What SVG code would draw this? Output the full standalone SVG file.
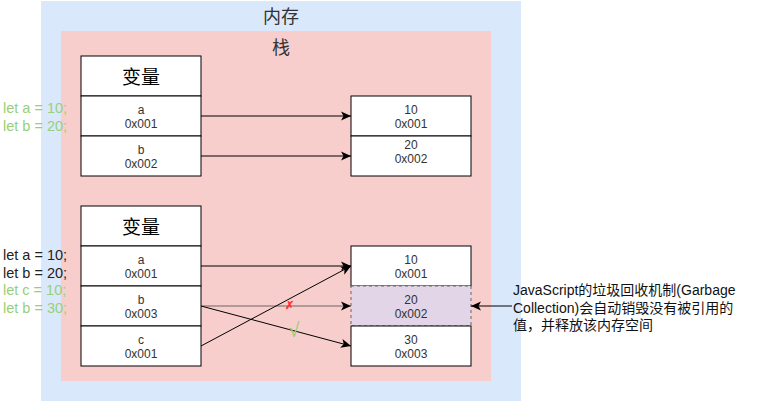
<svg xmlns="http://www.w3.org/2000/svg" width="775" height="405" viewBox="0 0 775 405">
<style>
text{font-family:"Liberation Sans","Noto Sans CJK SC",sans-serif;}
.cell{fill:#ffffff;stroke:#000000;stroke-width:1;}
.ct{font-size:12px;fill:#333333;text-anchor:middle;}
.hd{font-size:19px;fill:#000000;text-anchor:middle;}
.code{font-size:14.5px;}
.green{fill:#97D077;}
.black{fill:#222222;}
.edge{fill:none;stroke:#000000;stroke-width:1;}
</style>
<defs>
<marker id="arr" markerUnits="userSpaceOnUse" markerWidth="12" markerHeight="10" refX="10" refY="5" orient="auto">
<path d="M0,0.5 L10,5 L0,9.5 L2.5,5 Z" fill="#000000"/>
</marker>
</defs>
<g id="memory">
<rect x="41" y="1" width="480" height="400" fill="#dae8fc"/>
<text x="281" y="23" font-size="18" fill="#333333" text-anchor="middle">内存</text>
</g>
<g id="stack">
<rect x="61" y="31" width="430" height="350" fill="#f8cecc"/>
<text x="281" y="54" font-size="18" fill="#333333" text-anchor="middle">栈</text>
</g>
<g id="vars1">
<rect class="cell" x="81" y="56" width="120" height="40"/>
<text class="hd" x="141" y="84">变量</text>
<rect class="cell" x="81" y="96" width="120" height="40"/>
<text class="ct" x="141" y="114">a</text>
<text class="ct" x="141" y="128">0x001</text>
<rect class="cell" x="81" y="136" width="120" height="40"/>
<text class="ct" x="141" y="154">b</text>
<text class="ct" x="141" y="168">0x002</text>
</g>
<g id="vals1">
<rect class="cell" x="351" y="96" width="120" height="40"/>
<text class="ct" x="411" y="114">10</text>
<text class="ct" x="411" y="128">0x001</text>
<rect class="cell" x="351" y="136" width="120" height="40"/>
<text class="ct" x="411" y="149">20</text>
<text class="ct" x="411" y="163">0x002</text>
</g>
<g id="vars2">
<rect class="cell" x="81" y="206" width="120" height="40"/>
<text class="hd" x="141" y="234">变量</text>
<rect class="cell" x="81" y="246" width="120" height="40"/>
<text class="ct" x="141" y="264">a</text>
<text class="ct" x="141" y="278">0x001</text>
<rect class="cell" x="81" y="286" width="120" height="40"/>
<text class="ct" x="141" y="304">b</text>
<text class="ct" x="141" y="318">0x003</text>
<rect class="cell" x="81" y="326" width="120" height="40"/>
<text class="ct" x="141" y="344">c</text>
<text class="ct" x="141" y="358">0x001</text>
</g>
<g id="vals2">
<rect class="cell" x="351" y="246" width="120" height="40"/>
<text class="ct" x="411" y="264">10</text>
<text class="ct" x="411" y="278">0x001</text>
<rect x="351" y="286" width="120" height="40" fill="#e1d5e7" stroke="#666666" stroke-width="1" stroke-dasharray="3,3"/>
<text class="ct" x="411" y="304">20</text>
<text class="ct" x="411" y="318">0x002</text>
<rect class="cell" x="351" y="326" width="120" height="40"/>
<text class="ct" x="411" y="344">30</text>
<text class="ct" x="411" y="358">0x003</text>
</g>
<g id="code1">
<text class="code green" x="3" y="113">let a = 10;</text>
<text class="code green" x="3" y="131">let b = 20;</text>
</g>
<g id="code2">
<text class="code black" x="3" y="260">let a = 10;</text>
<text class="code black" x="3" y="278">let b = 20;</text>
<text class="code green" x="3" y="295">let c = 10;</text>
<text class="code green" x="3" y="313">let b = 30;</text>
</g>
<g id="note">
<text font-size="14" fill="#111111" x="513" y="295">JavaScript的垃圾回收机制(Garbage</text>
<text font-size="14" fill="#111111" x="513" y="312.5">Collection)会自动销毁没有被引用的</text>
<text font-size="14" fill="#111111" x="513" y="330">值，并释放该内存空间</text>
</g>
<g id="connectors">
<path class="edge" d="M201,116 L351,116" marker-end="url(#arr)"/>
<path class="edge" d="M201,156 L351,156" marker-end="url(#arr)"/>
<path class="edge" d="M201,266 L351,266" marker-end="url(#arr)"/>
<path d="M201,306 L351,306" fill="none" stroke="#666666" stroke-width="1" marker-end="url(#arr)"/>
<path class="edge" d="M201,306 L351,346" marker-end="url(#arr)"/>
<path class="edge" d="M201,346 L351,266" marker-end="url(#arr)"/>
<path class="edge" d="M512,306 L471,306" marker-end="url(#arr)"/>
<text x="289" y="309" font-size="11" font-weight="bold" fill="#FF3333" text-anchor="middle">✗</text>
<text x="294" y="337" font-size="20" fill="#97D077" text-anchor="middle">√</text>
</g>
</svg>
